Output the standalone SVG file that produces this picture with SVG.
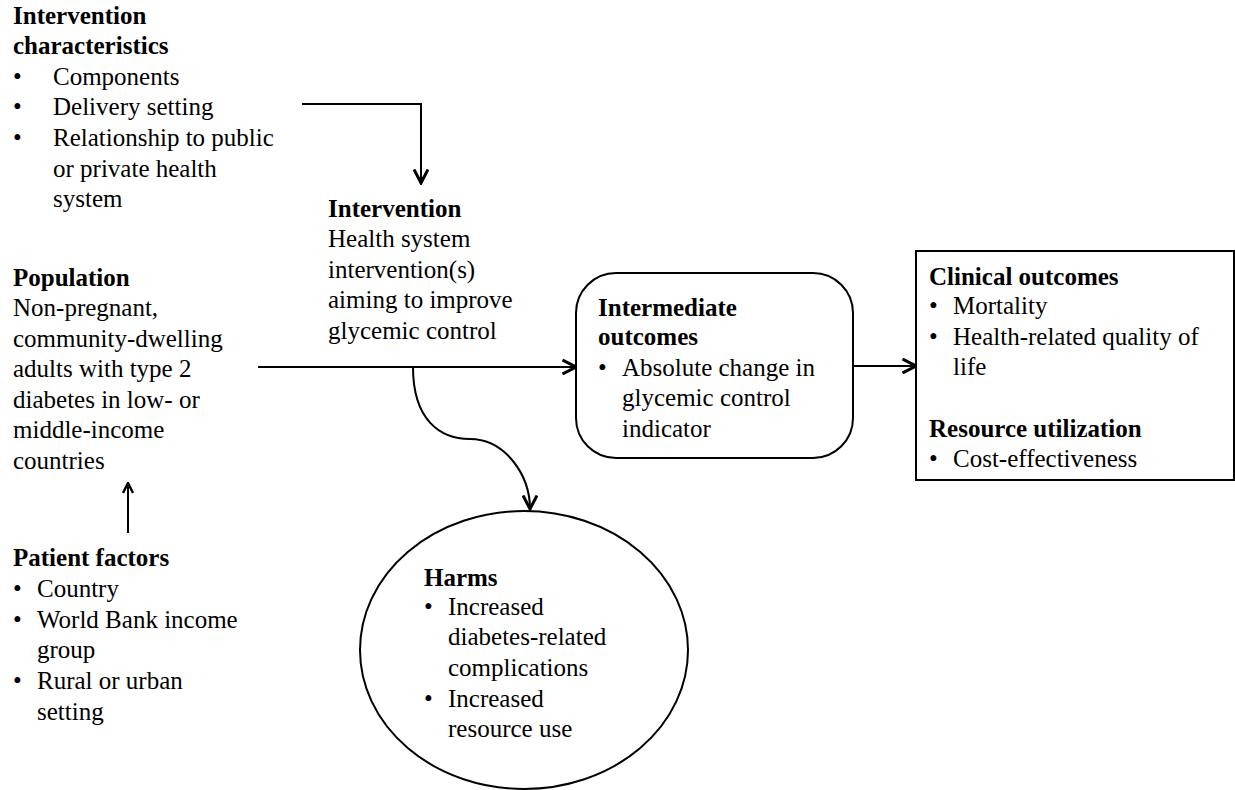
<svg xmlns="http://www.w3.org/2000/svg" width="1235" height="790" viewBox="0 0 1235 790">
<style>
text{font-family:"Liberation Serif","Times New Roman",serif;font-size:25px;fill:#000}
.b{font-weight:bold}
.shape{fill:#fff;stroke:#000;stroke-width:2}
.conn{fill:none;stroke:#000;stroke-width:2}
</style>
<defs>
<marker id="arr" viewBox="0 0 12 12" refX="11" refY="6" markerWidth="12" markerHeight="12" markerUnits="userSpaceOnUse" orient="auto">
<path d="M1,1 L11,6 L1,11" fill="none" stroke="#000" stroke-width="2.5"/>
</marker>
<marker id="arrL" viewBox="0 0 16 16" refX="14.5" refY="8" markerWidth="16" markerHeight="16" markerUnits="userSpaceOnUse" orient="auto">
<path d="M1,1 L14.5,8 L1,15" fill="none" stroke="#000" stroke-width="3"/>
</marker>
</defs>
<rect width="1235" height="790" fill="#fff"/>
<g id="connectors">
<path class="conn" d="M302,104 H421 V183" marker-end="url(#arrL)"/>
<path class="conn" d="M258,367 H576" marker-end="url(#arrL)"/>
<path class="conn" d="M853,366 H916" marker-end="url(#arrL)"/>
<path class="conn" d="M128,533 V483" marker-end="url(#arr)"/>
<path class="conn" d="M413,367 C413,420 440,439 470,439 C505,439 530,475 530,509" marker-end="url(#arrL)"/>
</g>
<g id="intervention-characteristics">
<text class="b" x="13" y="24">Intervention</text>
<text class="b" x="13" y="54">characteristics</text>
<text x="13" y="85">•</text><text x="53" y="85">Components</text>
<text x="13" y="115">•</text><text x="53" y="115">Delivery setting</text>
<text x="13" y="146">•</text><text x="53" y="146">Relationship to public</text>
<text x="53" y="177">or private health</text>
<text x="53" y="207">system</text>
</g>
<g id="population">
<text class="b" x="13" y="286">Population</text>
<text x="13" y="316">Non-pregnant,</text>
<text x="13" y="347">community-dwelling</text>
<text x="13" y="377">adults with type 2</text>
<text x="13" y="408">diabetes in low- or</text>
<text x="13" y="438">middle-income</text>
<text x="13" y="469">countries</text>
</g>
<g id="patient-factors">
<text class="b" x="13" y="566">Patient factors</text>
<text x="13" y="597">•</text><text x="37" y="597">Country</text>
<text x="13" y="628">•</text><text x="37" y="628">World Bank income</text>
<text x="37" y="658">group</text>
<text x="13" y="689">•</text><text x="37" y="689">Rural or urban</text>
<text x="37" y="720">setting</text>
</g>
<g id="intervention">
<text class="b" x="328" y="217">Intervention</text>
<text x="328" y="247">Health system</text>
<text x="328" y="278">intervention(s)</text>
<text x="328" y="308">aiming to improve</text>
<text x="328" y="339">glycemic control</text>
</g>
<g id="intermediate-outcomes">
<rect class="shape" x="576" y="273" width="277" height="185" rx="40" ry="40"/>
<text class="b" x="598" y="316">Intermediate</text>
<text class="b" x="598" y="345">outcomes</text>
<text x="598" y="376">•</text><text x="622" y="376">Absolute change in</text>
<text x="622" y="406">glycemic control</text>
<text x="622" y="437">indicator</text>
</g>
<g id="clinical-outcomes">
<rect class="shape" x="916" y="251" width="318" height="229"/>
<text class="b" x="929" y="285">Clinical outcomes</text>
<text x="929" y="314">•</text><text x="953" y="314">Mortality</text>
<text x="929" y="345">•</text><text x="953" y="345">Health-related quality of</text>
<text x="953" y="375">life</text>
<text class="b" x="929" y="437">Resource utilization</text>
<text x="929" y="467">•</text><text x="953" y="467">Cost-effectiveness</text>
</g>
<g id="harms">
<ellipse class="shape" cx="524" cy="650" rx="164" ry="139"/>
<text class="b" x="424" y="586">Harms</text>
<text x="424" y="615">•</text><text x="448" y="615">Increased</text>
<text x="448" y="645">diabetes-related</text>
<text x="448" y="676">complications</text>
<text x="424" y="707">•</text><text x="448" y="707">Increased</text>
<text x="448" y="737">resource use</text>
</g>
</svg>
